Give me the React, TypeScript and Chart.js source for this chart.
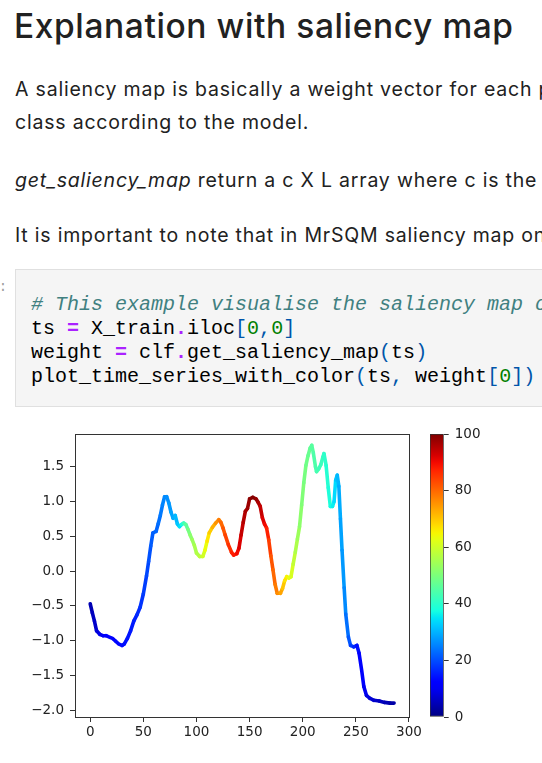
import React, { useEffect, useRef } from "react";
import { Chart, registerables } from "chart.js";

Chart.register(...registerables);

// ---- data ----
const xValues = [
  0, 2, 4, 6, 9, 12, 15, 18, 21, 24, 27, 30, 32, 35, 38, 41, 44, 47, 50, 53,
  55, 57, 59, 62, 64, 66, 68, 70, 72, 74, 76, 78, 80, 82, 84, 86, 88, 90, 92, 94,
  96, 98, 100, 103, 106, 108, 110, 112, 115, 118, 121, 123, 125, 127, 130, 133, 135, 138, 140, 142,
  144, 146, 148, 150, 153, 156, 158, 160, 162, 164, 166, 168, 170, 172, 174, 176, 179, 181, 183, 185,
  187, 189, 191, 193, 195, 197, 199, 201, 203, 205, 207, 208.5, 210, 212, 213, 215, 217, 219, 220, 222,
  224, 226, 228, 229.5, 231, 232.5, 234, 235.5, 237, 239, 240.5, 243, 245, 248, 251, 253, 255.5, 257.5, 260, 263,
  267, 272, 277, 282, 286,
];
const tsValues = [
  -0.47, -0.6, -0.72, -0.86, -0.91, -0.93, -0.93, -0.95, -0.97, -1.01, -1.05, -1.07, -1.05, -0.97, -0.86, -0.72, -0.63, -0.52, -0.33, -0.07,
  0.14, 0.36, 0.55, 0.57, 0.68, 0.8, 0.95, 1.07, 1.07, 0.98, 0.85, 0.76, 0.8, 0.68, 0.64, 0.67, 0.69, 0.67, 0.6, 0.52,
  0.45, 0.37, 0.26, 0.21, 0.21, 0.3, 0.43, 0.55, 0.63, 0.69, 0.74, 0.7, 0.62, 0.52, 0.38, 0.27, 0.23, 0.25, 0.33, 0.52,
  0.7, 0.86, 0.9, 1.04, 1.06, 1.04, 0.99, 0.93, 0.77, 0.68, 0.62, 0.45, 0.22, 0.02, -0.19, -0.32, -0.32, -0.25, -0.14, -0.08,
  -0.1, -0.08, 0.1, 0.27, 0.46, 0.64, 0.95, 1.27, 1.52, 1.66, 1.77, 1.81, 1.7, 1.5, 1.43, 1.47, 1.53, 1.64, 1.69, 1.52,
  1.2, 0.93, 0.93, 1.0, 1.31, 1.38, 1.22, 0.75, 0.3, -0.24, -0.62, -0.95, -1.07, -1.09, -1.07, -1.18, -1.43, -1.66, -1.79, -1.83,
  -1.86, -1.87, -1.89, -1.9, -1.9,
];
const weightValues = [
  4, 5, 6, 7, 9, 10, 11, 12, 12, 13, 13, 13, 14, 14, 15, 15, 16, 17, 18, 19,
  20, 21, 22, 22, 23, 24, 25, 26, 26, 27, 28, 29, 30, 31, 33, 36, 41, 45, 48, 51,
  53, 55, 56, 57, 59, 62, 65, 68, 71, 74, 77, 79, 81, 83, 85, 87, 88, 89, 91, 93,
  95, 96, 97, 98, 100, 99, 97, 95, 93, 91, 89, 86, 83, 81, 79, 77, 75, 72, 68, 66,
  64, 62, 60, 57, 55, 53, 51, 50, 49, 48, 47, 46, 45, 44, 44, 43, 42, 42, 41, 40,
  39, 38, 37, 35, 33, 31, 30, 29, 28, 27, 25, 22, 20, 17, 15, 13, 12, 11, 9, 8,
  7, 6, 5, 4, 3,
];
const xTicks = [0, 50, 100, 150, 200, 250, 300];
const yTicks = [-2.0, -1.5, -1.0, -0.5, 0.0, 0.5, 1.0, 1.5];
const cbCategories = [""];
const cbValues = [100];
const cbTicks = [0, 20, 40, 60, 80, 100];

// ---- matplotlib "jet" colormap ----
const JET: Record<string, number[][]> = {
  r: [[0, 0], [0.35, 0], [0.66, 1], [0.89, 1], [1, 0.5]],
  g: [[0, 0], [0.125, 0], [0.375, 1], [0.64, 1], [0.91, 0], [1, 0]],
  b: [[0, 0.5], [0.11, 1], [0.34, 1], [0.65, 0], [1, 0]],
};
function channel(pts: number[][], t: number) {
  for (let i = 1; i < pts.length; i++) {
    if (t <= pts[i][0]) {
      const [x0, y0] = pts[i - 1];
      const [x1, y1] = pts[i];
      return y0 + ((y1 - y0) * (t - x0)) / (x1 - x0);
    }
  }
  return pts[pts.length - 1][1];
}
function jet(t: number) {
  const c = Math.min(1, Math.max(0, t));
  const r = Math.round(channel(JET.r, c) * 255);
  const g = Math.round(channel(JET.g, c) * 255);
  const b = Math.round(channel(JET.b, c) * 255);
  return `rgb(${r},${g},${b})`;
}

const TICK_FONT = { family: "'DejaVu Sans', sans-serif", size: 13.5 };
const AXIS_COLOR = "#333";
const fmtY = (v: number) => (v < 0 ? "\u2212" : "") + Math.abs(v).toFixed(1);

const framePlugin = {
  id: "frame",
  afterDraw(chart: any) {
    const { ctx, chartArea: a } = chart;
    ctx.save();
    ctx.strokeStyle = AXIS_COLOR;
    ctx.lineWidth = 1;
    ctx.strokeRect(Math.round(a.left) + 0.5, Math.round(a.top) + 0.5, Math.round(a.right - a.left), Math.round(a.bottom - a.top));
    ctx.restore();
  },
};

function LineChart() {
  const ref = useRef<HTMLCanvasElement>(null);
  useEffect(() => {
    const chart = new Chart(ref.current!, {
      type: "line",
      data: {
        datasets: [
          {
            data: xValues.map((x, i) => ({ x, y: tsValues[i] })),
            borderWidth: 3.6,
            pointRadius: 0,
            tension: 0,
            borderCapStyle: "round",
            borderJoinStyle: "round",
            borderColor: jet(0.5),
            segment: {
              borderColor: (ctx: any) =>
                jet((weightValues[ctx.p0DataIndex] + weightValues[ctx.p1DataIndex]) / 200),
            },
          } as any,
        ],
      },
      options: {
        animation: false,
        responsive: false,
        maintainAspectRatio: false,
        events: [],
        layout: { padding: { left: 0, top: 12, right: 132.7, bottom: 0 } },
        plugins: { legend: { display: false }, tooltip: { enabled: false } },
        scales: {
          x: {
            type: "linear",
            min: -14.3,
            max: 300.3,
            afterBuildTicks: (s: any) => {
              s.ticks = xTicks.map((v) => ({ value: v }));
            },
            afterFit: (s: any) => {
              s.height = 46;
            },
            grid: { drawOnChartArea: false, drawTicks: true, tickLength: 5, color: AXIS_COLOR },
            border: { display: true, color: AXIS_COLOR, width: 1 },
            ticks: {
              padding: 2,
              color: "#222",
              font: TICK_FONT,
              maxRotation: 0,
              autoSkip: false,
              callback: (v: any) => String(v),
            },
          },
          y: {
            type: "linear",
            min: -2.1,
            max: 1.971,
            afterBuildTicks: (s: any) => {
              s.ticks = yTicks.map((v) => ({ value: v }));
            },
            afterFit: (s: any) => {
              s.width = 75;
            },
            grid: { drawOnChartArea: false, drawTicks: true, tickLength: 5, color: AXIS_COLOR },
            border: { display: true, color: AXIS_COLOR, width: 1 },
            ticks: {
              padding: 6,
              color: "#222",
              font: TICK_FONT,
              autoSkip: false,
              callback: (v: any) => fmtY(Number(v)),
            },
          },
        },
      },
      plugins: [framePlugin],
    });
    return () => chart.destroy();
  }, []);
  return (
    <canvas
      ref={ref}
      width={542}
      height={343}
      style={{ position: "absolute", left: 0, top: 420, width: 542, height: 343 }}
    />
  );
}

function ColorBar() {
  const ref = useRef<HTMLCanvasElement>(null);
  useEffect(() => {
    const chart = new Chart(ref.current!, {
      type: "bar",
      data: {
        labels: cbCategories,
        datasets: [
          {
            data: cbValues,
            backgroundColor: (ctx: any) => {
              const a = ctx.chart.chartArea;
              if (!a) return jet(0.5);
              const g = ctx.chart.ctx.createLinearGradient(0, a.bottom, 0, a.top);
              for (let i = 0; i <= 40; i++) g.addColorStop(i / 40, jet(i / 40));
              return g;
            },
            borderColor: AXIS_COLOR,
            borderWidth: 1,
            borderSkipped: false,
            barPercentage: 1,
            categoryPercentage: 1,
          } as any,
        ],
      },
      options: {
        animation: false,
        responsive: false,
        maintainAspectRatio: false,
        events: [],
        layout: { padding: { left: 10, top: 12, right: 0, bottom: 46 } },
        plugins: { legend: { display: false }, tooltip: { enabled: false } },
        scales: {
          x: { display: false },
          y: {
            position: "right",
            min: 0,
            max: 100,
            afterBuildTicks: (s: any) => {
              s.ticks = cbTicks.map((v) => ({ value: v }));
            },
            afterFit: (s: any) => {
              s.width = 122 - 23.7;
            },
            grid: { drawOnChartArea: false, drawTicks: true, tickLength: 5, color: AXIS_COLOR },
            border: { display: false },
            ticks: {
              padding: 6,
              color: "#222",
              font: TICK_FONT,
              autoSkip: false,
              callback: (v: any) => String(v),
            },
          },
        },
      },
    });
    return () => chart.destroy();
  }, []);
  return (
    <canvas
      ref={ref}
      width={122}
      height={343}
      style={{ position: "absolute", left: 420, top: 420, width: 122, height: 343 }}
    />
  );
}

const OP = { color: "#aa22ff", fontWeight: 700 } as const;
const BR = { color: "#0055aa" } as const;
const NUM = { color: "#008000" } as const;

export default function App() {
  const para = {
    position: "absolute" as const,
    left: 15,
    fontSize: 19.5,
    letterSpacing: "0.8px",
    lineHeight: "32.6px",
    whiteSpace: "nowrap" as const,
  };
  const codeLine = {
    position: "absolute" as const,
    left: 31,
    fontFamily: "'Liberation Mono', 'DejaVu Sans Mono', monospace",
    fontSize: 20,
    lineHeight: "24px",
    whiteSpace: "pre" as const,
    color: "#000",
  };
  return (
    <div
      style={{
        position: "fixed",
        left: 0,
        top: 0,
        width: 542,
        height: 763,
        overflow: "hidden",
        background: "#fff",
        fontFamily: "Inter, 'Noto Sans', sans-serif",
        color: "#212121",
      }}
    >
      <div
        style={{
          position: "absolute",
          left: 14,
          top: 5.5,
          fontSize: 33.5,
          letterSpacing: "0.6px",
          fontWeight: 500,
          lineHeight: "40px",
          whiteSpace: "nowrap",
        }}
      >
        Explanation with saliency map
      </div>
      <div style={{ ...para, top: 73.3 }}>
        A saliency map is basically a weight vector for each point of the time series that shows its importance for a
      </div>
      <div style={{ ...para, top: 105.9 }}>class according to the model.</div>
      <div style={{ ...para, top: 164 }}>
        <i>get_saliency_map</i> return a c X L array where c is the number of classes and L is the length of the time series.
      </div>
      <div style={{ ...para, top: 218.5 }}>
        It is important to note that in MrSQM saliency map only works for univariate time series.
      </div>

      <div
        style={{
          position: "absolute",
          left: -1.2,
          top: 280.3,
          fontFamily: "'Liberation Mono', monospace",
          fontSize: 14,
          lineHeight: "14px",
          color: "#9e9e9e",
        }}
      >
        :
      </div>
      <div
        style={{
          position: "absolute",
          left: 15,
          top: 269,
          width: 700,
          height: 136,
          background: "#f5f5f5",
          border: "1px solid #e0e0e0",
        }}
      />
      <div style={{ ...codeLine, top: 293 }}>
        <span style={{ color: "#408080", fontStyle: "italic" }}># This example visualise the saliency map of the first sample</span>
      </div>
      <div style={{ ...codeLine, top: 317 }}>
        ts <span style={OP}>=</span> X_train<span style={OP}>.</span>iloc<span style={BR}>[</span>
        <span style={NUM}>0</span>
        <span style={BR}>,</span>
        <span style={NUM}>0</span>
        <span style={BR}>]</span>
      </div>
      <div style={{ ...codeLine, top: 341 }}>
        weight <span style={OP}>=</span> clf<span style={OP}>.</span>get_saliency_map<span style={BR}>(</span>ts<span style={BR}>)</span>
      </div>
      <div style={{ ...codeLine, top: 365 }}>
        plot_time_series_with_color<span style={BR}>(</span>ts<span style={BR}>,</span> weight<span style={BR}>[</span>
        <span style={NUM}>0</span>
        <span style={BR}>])</span>
      </div>

      <LineChart />
      <ColorBar />
    </div>
  );
}
